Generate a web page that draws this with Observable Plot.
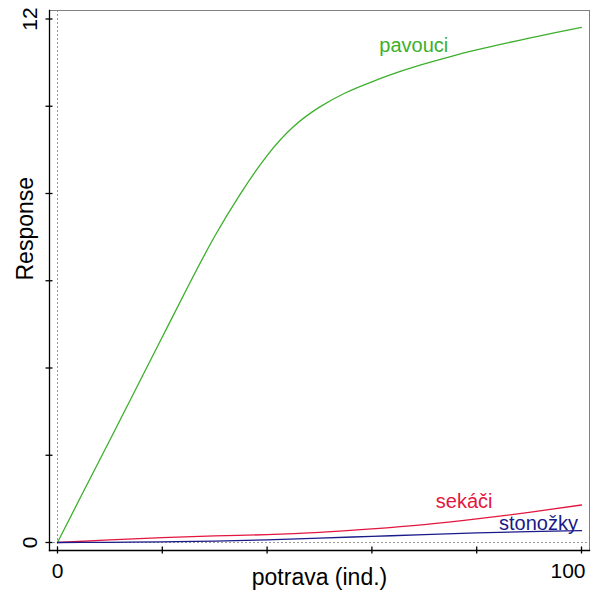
<!DOCTYPE html>
<html>
<head>
<meta charset="utf-8">
<script src="https://cdn.jsdelivr.net/npm/d3@7"></script>
<script src="https://cdn.jsdelivr.net/npm/@observablehq/plot@0.6"></script>
<style>
  html, body { margin: 0; padding: 0; background: #fff; }
  svg { display: block; }
</style>
</head>
<body>
<div id="chart"></div>
<script>
// --- data ---
const xGreen = [0, 5, 10, 15, 20, 25, 30, 35, 40, 45, 50, 55, 60, 65, 70, 75, 80, 85, 90, 95, 100];
const pavouci = [0, 1.18, 2.35, 3.53, 4.71, 5.89, 7.02, 8.01, 8.87, 9.53, 9.98, 10.31, 10.56, 10.78, 10.97, 11.14, 11.29, 11.43, 11.56, 11.69, 11.81];
const xSmall = [0, 10, 20, 30, 40, 50, 60, 70, 80, 90, 100];
const sekaci = [0, 0.06, 0.11, 0.15, 0.18, 0.23, 0.31, 0.41, 0.54, 0.69, 0.86];
const stonozky = [0, 0.005, 0.015, 0.03, 0.06, 0.10, 0.14, 0.18, 0.22, 0.25, 0.27];

const seriesNames = ["pavouci", "sekáči", "stonožky"];
const seriesColors = ["#3daf2c", "#e3163f", "#1a1a8a"];
const labelX = [68, 77.6, 91.8];
const labelY = [11.4, 0.94, 0.44];

const xTicks = [0, 20, 40, 60, 80, 100];
const yTicks = [0, 2, 4, 6, 8, 10, 12];
const xTickLabelsLeft = [0];
const xTickLabelsRight = [100];
const yTickLabels = [0, 12];
const xTitle = "potrava (ind.)";
const yTitle = "Response";

// build tables
const greenData = xGreen.map((x, i) => ({x, y: pavouci[i]}));
const redData = xSmall.map((x, i) => ({x, y: sekaci[i]}));
const blueData = xSmall.map((x, i) => ({x, y: stonozky[i]}));
const labels = seriesNames.map((name, i) => ({name, x: labelX[i], y: labelY[i], color: seriesColors[i]}));

const font = "'Liberation Sans', Arial, sans-serif";

const chart = Plot.plot({
  width: 593,
  height: 593,
  marginLeft: 49,
  marginRight: 4,
  marginTop: 10,
  marginBottom: 43,
  insetLeft: 8,
  insetRight: 8,
  insetTop: 8.5,
  insetBottom: 8,
  style: {fontFamily: font, background: "#fff"},
  x: {domain: [0, 100]},
  y: {domain: [0, 12]},
  marks: [
    // dotted reference lines at 0
    Plot.ruleX([0], {stroke: "#9a9a9a", strokeWidth: 1, strokeDasharray: "2,2"}),
    Plot.ruleY([0], {stroke: "#9a9a9a", strokeWidth: 1, strokeDasharray: "2,2"}),
    // box
    Plot.frame({stroke: "#808080", strokeWidth: 1}),
    Plot.frame({anchor: "left", stroke: "#000", strokeWidth: 1.3}),
    Plot.frame({anchor: "bottom", stroke: "#000", strokeWidth: 1.3}),
    // ticks (crossing the axis lines)
    Plot.axisX({ticks: xTicks, tickSize: 7, dy: -3.5, tickFormat: () => "", stroke: "#000", strokeWidth: 1.3, label: null}),
    Plot.axisY({ticks: yTicks, tickSize: 7, dx: 3.5, tickFormat: () => "", stroke: "#000", strokeWidth: 1.3, label: null}),
    // tick labels
    Plot.axisX({ticks: xTickLabelsLeft, tickSize: 0, tickPadding: 13, fontSize: 21, fill: "#000", label: null}),
    Plot.axisX({ticks: xTickLabelsRight, tickSize: 0, tickPadding: 13, dx: -13.5, fontSize: 21, fill: "#000", label: null}),
    Plot.axisY({ticks: yTickLabels, tickSize: 0, tickPadding: 13, rotate: -90, textAnchor: "middle", lineAnchor: "bottom", fontSize: 21, fill: "#000", label: null}),
    // axis titles
    Plot.text([xTitle], {frameAnchor: "bottom", dy: 34, lineAnchor: "bottom", fontSize: 23, fill: "#000"}),
    Plot.text([yTitle], {frameAnchor: "left", dx: -16.5, rotate: -90, lineAnchor: "bottom", fontSize: 23, fill: "#000"}),
    // curves
    Plot.line(greenData, {x: "x", y: "y", stroke: seriesColors[0], strokeWidth: 1.3, curve: "natural"}),
    Plot.line(redData, {x: "x", y: "y", stroke: seriesColors[1], strokeWidth: 1.3, curve: "natural"}),
    Plot.line(blueData, {x: "x", y: "y", stroke: seriesColors[2], strokeWidth: 1.3, curve: "natural"}),
    // labels
    Plot.text(labels, {x: "x", y: "y", text: "name", fill: "color", fontSize: 20, lineAnchor: "middle"})
  ]
});
document.getElementById("chart").appendChild(chart);
</script>
</body>
</html>
